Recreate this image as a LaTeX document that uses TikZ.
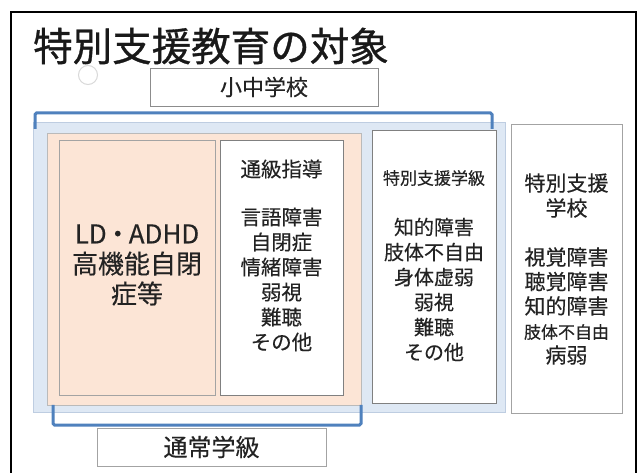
\documentclass[tikz,border=0pt]{standalone}
\usepackage{fontspec}
\setmainfont{Noto Sans CJK JP}[FakeBold=0.3]
\newfontfamily\titlefont{Noto Sans CJK JP}[FakeBold=0.8]
\definecolor{brk}{RGB}{79,129,189}
\definecolor{lblue}{RGB}{222,232,244}
\definecolor{lbluel}{RGB}{190,205,225}
\definecolor{peachc}{RGB}{252,229,214}
\definecolor{boxline}{RGB}{140,140,140}
\definecolor{txt}{RGB}{35,35,35}
\tikzset{
  rbox/.style={draw=boxline, line width=0.9pt, inner sep=0pt, outer sep=0pt, fill=white},
  bracket/.style={draw=brk, line width=3pt, rounded corners=1.5pt},
  lbl/.style={text=txt, align=center, inner sep=0pt},
}
\begin{document}
\begin{tikzpicture}[x=1pt,y=-1pt]
\useasboundingbox (0,0) rectangle (638,473);
\fill[white] (0,0) rectangle (638,473);
% frame
\coordinate (fbl) at (11,473);
\coordinate (ftl) at (11,12);
\coordinate (ftr) at (636,12);
\coordinate (fbr) at (636,473);
\draw[line width=2.5pt, black] (fbl) -- (ftl) -- (ftr) -- (fbr);
% title
\node[lbl, font=\titlefont\fontsize{39.5}{42}\selectfont, text=black!90] (title) at (211,46) {特別支援教育の対象};
\node[draw=gray!30, line width=1pt, circle, minimum size=19pt, inner sep=0pt] (circ) at (88,75) {};
% top label
\node[rbox, minimum width=228pt, minimum height=38pt] (shochu) at (264,87) {};
\node[lbl, font=\fontsize{22}{24}\selectfont] (shochut) at (shochu) {小中学校};
% background panels
\node[draw=lbluel, line width=0.6pt, fill=lblue, inner sep=0pt, minimum width=472pt, minimum height=290pt] (bluebg) at (269,267) {};
\node[draw=boxline!60, line width=0.6pt, fill=peachc, inner sep=0pt, minimum width=314pt, minimum height=272pt] (peach) at (204,269) {};
% boxes
\node[rbox, fill=peachc, draw=boxline!80, minimum width=156pt, minimum height=255pt] (ld) at (137,267.5) {};
\node[rbox, draw=boxline!110, minimum width=123pt, minimum height=255pt] (tsukyu) at (281.5,267.5) {};
\node[rbox, draw=boxline!110, minimum width=124pt, minimum height=273pt] (tokkyu) at (434,266.5) {};
\node[rbox, draw=boxline!80, minimum width=111pt, minimum height=289pt] (tokko) at (566.5,268.5) {};
\node[rbox, draw=boxline!80, minimum width=229pt, minimum height=38pt] (tsujo) at (211.5,447) {};
% brackets
\coordinate (tb1) at (35,129);
\coordinate (tb2) at (35,113);
\coordinate (tb3) at (492,113);
\coordinate (tb4) at (492,129);
\draw[bracket] (tb1) -- (tb2) -- (tb3) -- (tb4);
\coordinate (bb1) at (53,405);
\coordinate (bb2) at (53,425);
\coordinate (bb3) at (361,425);
\coordinate (bb4) at (361,405);
\draw[bracket] (bb1) -- (bb2) -- (bb3) -- (bb4);
% texts
\node[lbl, font=\fontsize{26}{30}\selectfont] (ldt) at (137,265) {LD\kern-2pt・\kern-2pt ADHD\\高機能自閉\\症等};
\node[lbl, font=\fontsize{20.5}{25}\selectfont] (tsukyuh) at (281.5,169) {通級指導};
\node[lbl, font=\fontsize{20.5}{25}\selectfont] (tsukyul) at (281.5,279.5) {言語障害\\自閉症\\情緒障害\\弱視\\難聴\\その他};
\node[lbl, font=\fontsize{17}{20}\selectfont] (tokkyuh) at (434,178) {特別支援学級};
\node[lbl, font=\fontsize{20}{25}\selectfont] (tokkyul) at (434,289.5) {知的障害\\肢体不自由\\身体虚弱\\弱視\\難聴\\その他};
\node[lbl, font=\fontsize{21}{25}\selectfont] (tokkoh) at (566.5,195.5) {特別支援\\学校};
\node[lbl, font=\fontsize{21}{24.5}\selectfont] (tokkol) at (566.5,306) {視覚障害\\聴覚障害\\知的障害\\{\fontsize{17}{24.5}\selectfont 肢体不自由}\\病弱};
\node[lbl, font=\fontsize{24}{26}\selectfont] (tsujot) at (tsujo) {通常学級};
\end{tikzpicture}
\end{document}
